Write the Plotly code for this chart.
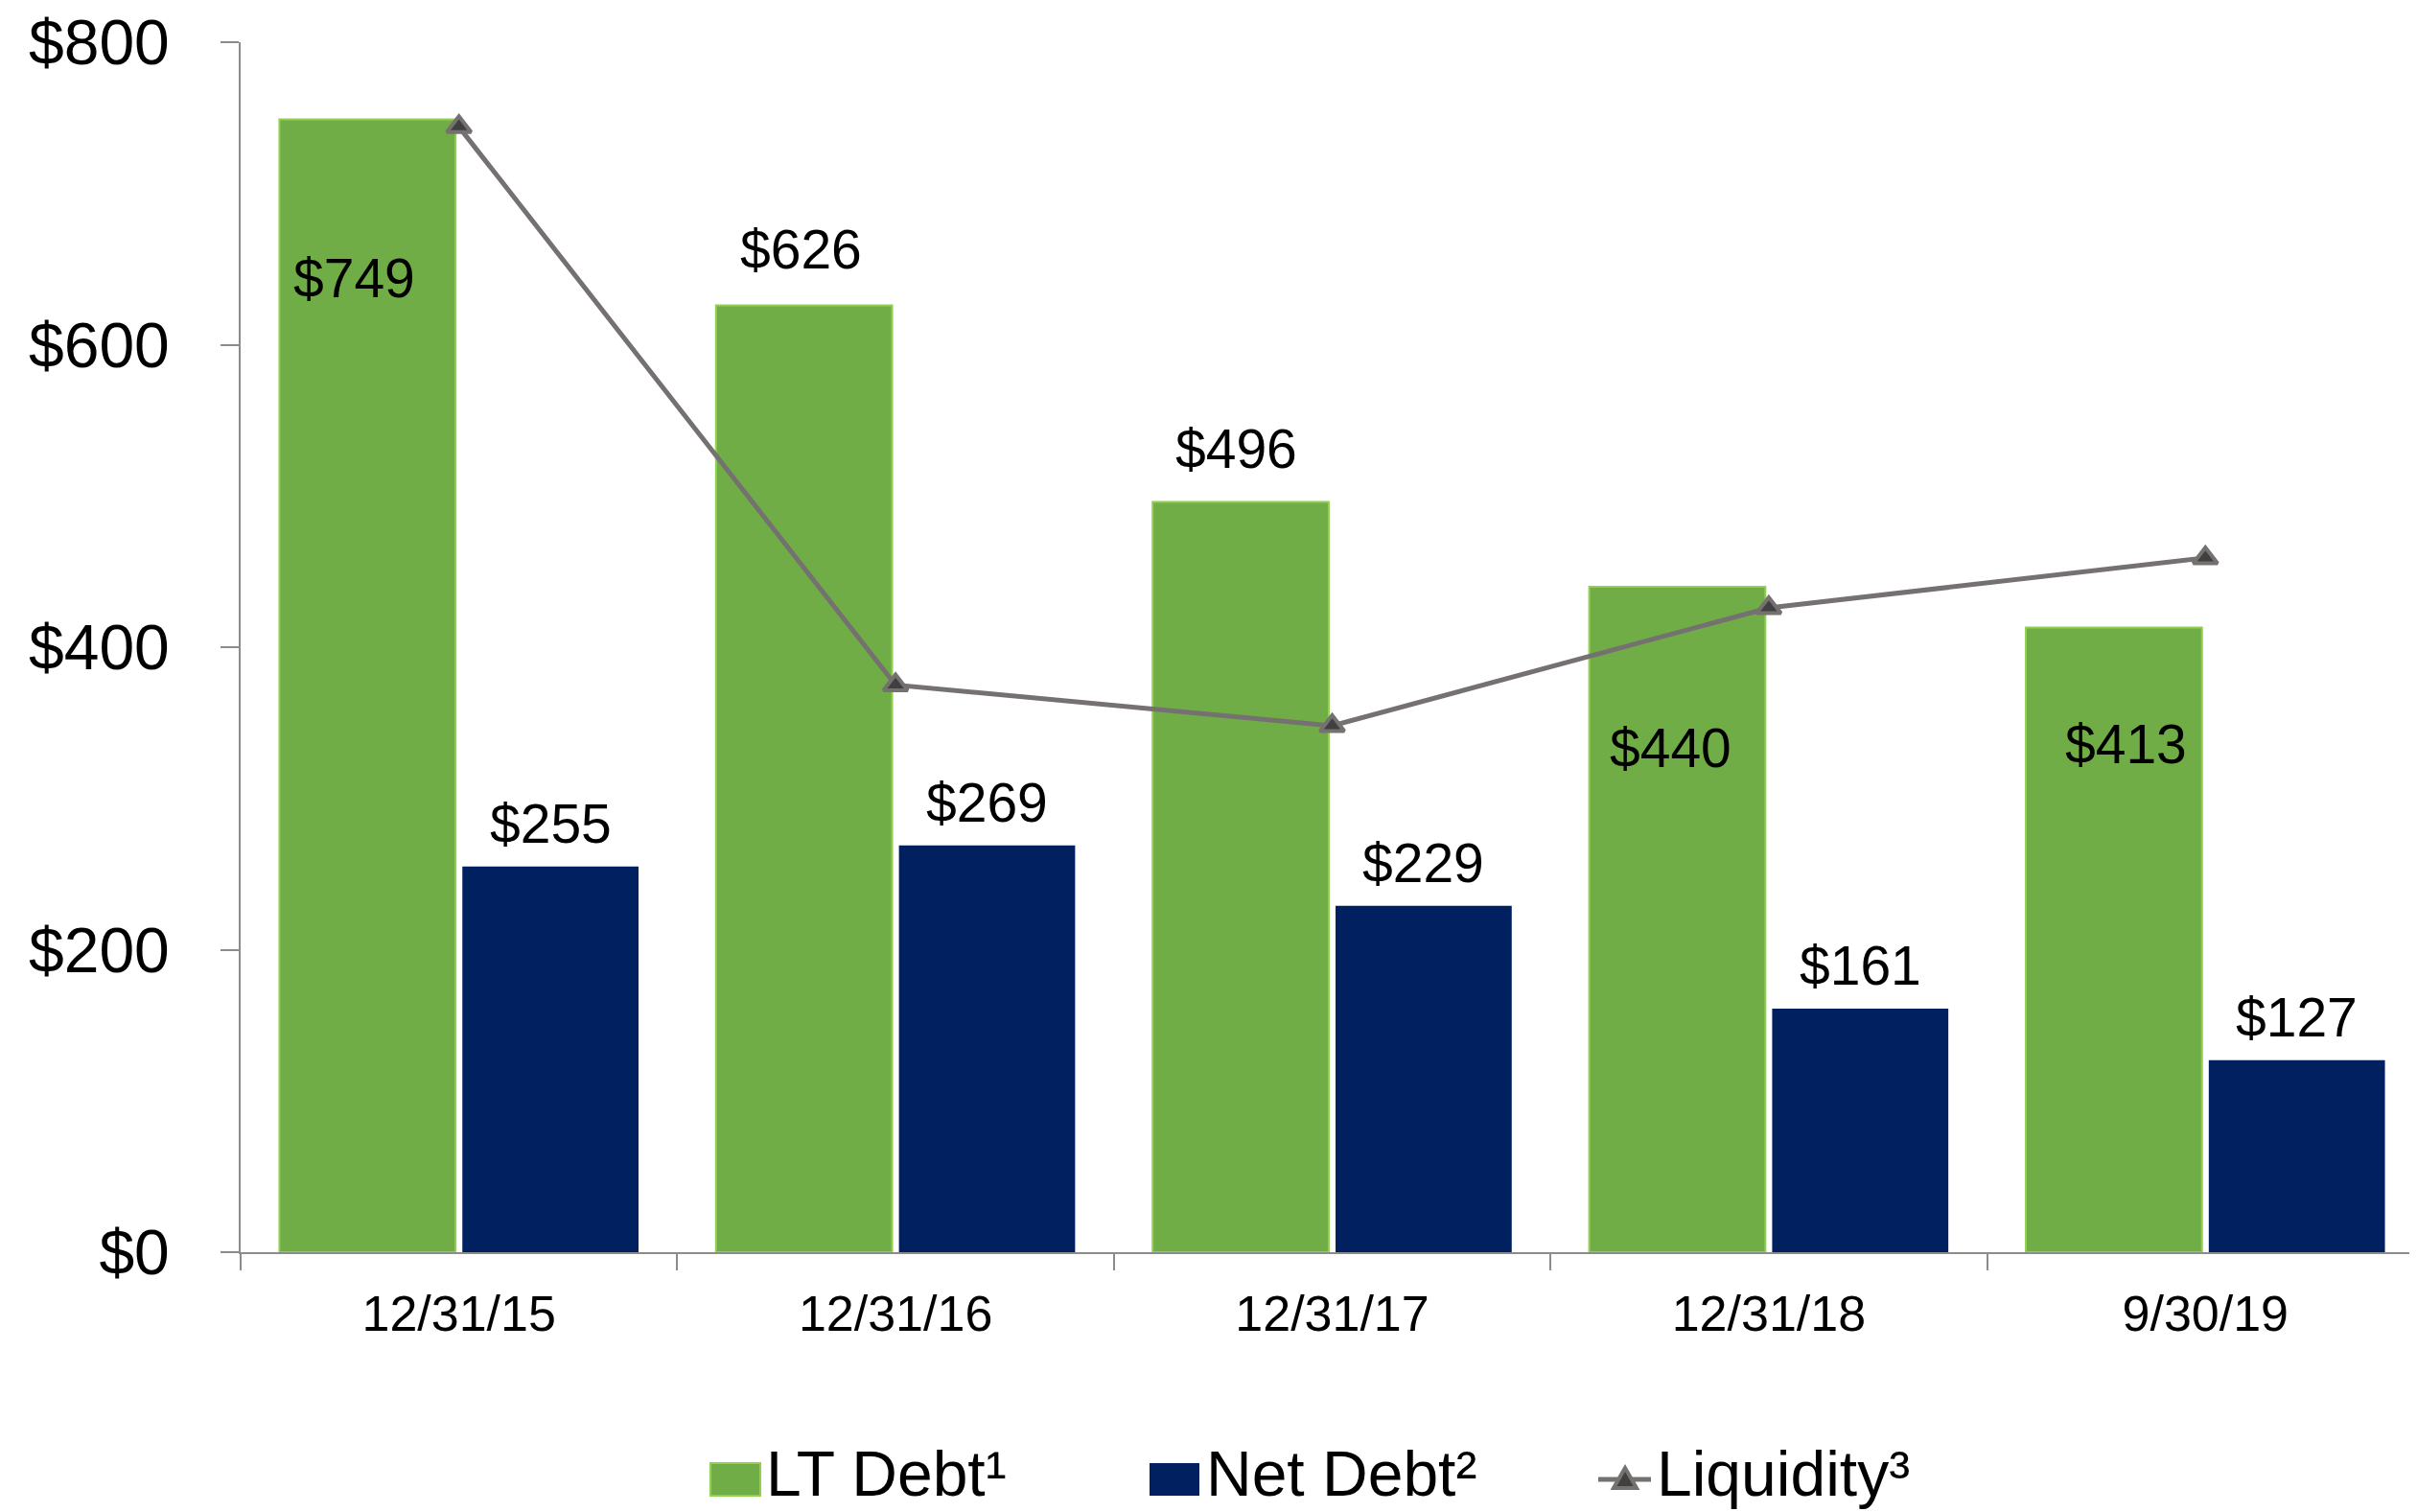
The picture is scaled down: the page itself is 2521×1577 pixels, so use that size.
import plotly.graph_objects as go

# ---- data ----
categories = ["12/31/15", "12/31/16", "12/31/17", "12/31/18", "9/30/19"]
lt_debt = [749, 626, 496, 440, 413]
net_debt = [255, 269, 229, 161, 127]
liquidity = [744, 375, 348, 426, 459]
y_ticks = [0, 200, 400, 600, 800]
y_tick_labels = ["$0", "$200", "$400", "$600", "$800"]
legend_names = ["LT Debt\u00b9", "Net Debt\u00b2", "Liquidity\u00b3"]

# ---- styling / positioning ----
OFF = 8  # default page body margin
W, H = 2521 - OFF, 1577 - OFF
ML, MR, MT, MB = 251 - OFF, 0, 44 - OFF, 271
PW, PH = W - ML - MR, H - MT - MB
FONT = "Arial, Liberation Sans, sans-serif"
GREEN, GREEN_EDGE, NAVY, GREY, DARK = "#70AD47", "#92D050", "#002060", "#767171", "#404040"
SLOT = 95.5  # px offset of each bar centre from category centre

# label offsets (px) relative to bar centre / bar top
lt_dx = [-14, -3, -4, -7, 13]
lt_dy = [-166, 58, 56, -168, -122]
net_dx = [0, 0, 0, 0, 0]
net_dy = [45, 45, 45, 45, 45]


def pxx(x):
    # reference page pixel -> paper fraction
    return (x - OFF - ML) / PW


def pxy(y):
    return (H - MB - (y - OFF)) / PH


fig = go.Figure()
fig.add_trace(go.Bar(x=categories, y=lt_debt, name=legend_names[0],
                     marker=dict(color=GREEN, line=dict(color=GREEN_EDGE, width=2)),
                     showlegend=False))
fig.add_trace(go.Bar(x=categories, y=net_debt, name=legend_names[1],
                     marker=dict(color=NAVY, line=dict(width=0)),
                     showlegend=False))
fig.add_trace(go.Scatter(x=categories, y=liquidity, name=legend_names[2], mode="lines+markers",
                         line=dict(color=GREY, width=5),
                         marker=dict(symbol="triangle-up", size=22, color=DARK,
                                     line=dict(color=GREY, width=4)),
                         showlegend=False, cliponaxis=False))

annotations = []
for i, c in enumerate(categories):
    annotations.append(dict(x=c, y=lt_debt[i], xref="x", yref="y", text=f"${lt_debt[i]}",
                            showarrow=False, xshift=-SLOT + lt_dx[i], yshift=lt_dy[i],
                            xanchor="center", yanchor="middle",
                            font=dict(family=FONT, size=57, color="#000000")))
    annotations.append(dict(x=c, y=net_debt[i], xref="x", yref="y", text=f"${net_debt[i]}",
                            showarrow=False, xshift=SLOT + net_dx[i], yshift=net_dy[i],
                            xanchor="center", yanchor="middle",
                            font=dict(family=FONT, size=57, color="#000000")))

# ---- manual legend ----
LEG_Y = 1537
leg_text_x = [797, 1256, 1726]
for name, lx in zip(legend_names, leg_text_x):
    annotations.append(dict(x=pxx(lx), y=pxy(LEG_Y), xref="paper", yref="paper", text=name,
                            showarrow=False, xanchor="left", yanchor="middle",
                            font=dict(family=FONT, size=66, color="#000000")))

shapes = [
    dict(type="rect", xref="paper", yref="paper", x0=pxx(741), x1=pxx(793), y0=pxy(1560), y1=pxy(1526),
         fillcolor=GREEN, line=dict(color=GREEN_EDGE, width=2)),
    dict(type="rect", xref="paper", yref="paper", x0=pxx(1199), x1=pxx(1251), y0=pxy(1560), y1=pxy(1526),
         fillcolor=NAVY, line=dict(width=0)),
    dict(type="line", xref="paper", yref="paper", x0=pxx(1667), x1=pxx(1722), y0=pxy(1543), y1=pxy(1543),
         line=dict(color=GREY, width=5)),
    dict(type="path", xref="paper", yref="paper",
         path=f"M{pxx(1695)},{pxy(1531)} L{pxx(1683)},{pxy(1552)} L{pxx(1707)},{pxy(1552)} Z",
         fillcolor=DARK, line=dict(color=GREY, width=4)),
]

fig.update_layout(
    width=W, height=H,
    margin=dict(l=ML, r=MR, t=MT, b=MB, pad=0),
    paper_bgcolor="white", plot_bgcolor="white",
    barmode="group", bargap=0.162, bargroupgap=0.037,
    font=dict(family=FONT, color="#000000"),
    annotations=annotations, shapes=shapes,
    showlegend=False,
)
fig.update_xaxes(type="category", range=[-0.5, -0.5 + (PW + OFF) / 457.0],
                 showline=True, linecolor="#8C8C8C", linewidth=2,
                 ticks="outside", ticklen=17, tickwidth=2, tickcolor="#8C8C8C",
                 tickson="boundaries", showgrid=False, zeroline=False,
                 tickfont=dict(family=FONT, size=52, color="#000000"),
                 ticklabelstandoff=18, ticklabeloverflow="allow")
fig.update_yaxes(range=[0, 800], tickmode="array", tickvals=y_ticks, ticktext=y_tick_labels,
                 showline=True, linecolor="#8C8C8C", linewidth=2,
                 ticks="outside", ticklen=19, tickwidth=2, tickcolor="#8C8C8C",
                 showgrid=False, zeroline=False,
                 tickfont=dict(family=FONT, size=66, color="#000000"),
                 ticklabelstandoff=40, ticklabeloverflow="allow")

fig.write_html("out.html")
